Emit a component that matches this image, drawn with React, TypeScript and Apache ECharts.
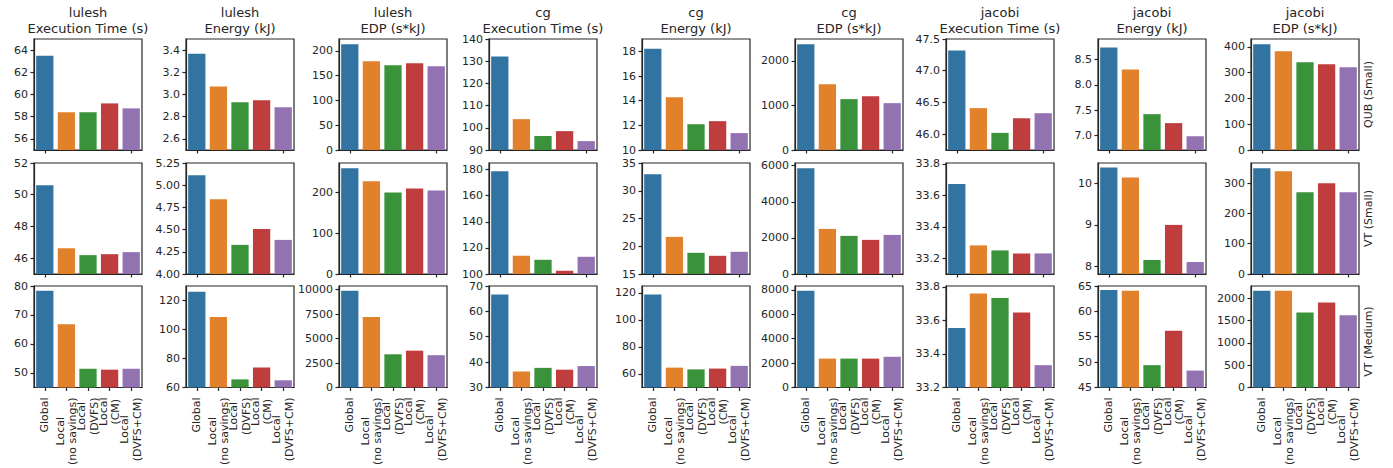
import React, { useEffect, useRef } from "react";
import * as echarts from "echarts";

// ---------- categories / labels ----------
const CATEGORIES = ["Global", "Local\n(no savings)", "Local\n(DVFS)", "Local\n(CM)", "Local\n(DVFS+CM)"];
const BENCHMARKS = ["lulesh", "cg", "jacobi"];
const METRICS = ["Execution Time (s)", "Energy (kJ)", "EDP (s*kJ)"];
const ROW_LABELS = ["QUB (Small)", "VT (Small)", "VT (Medium)"];

// ---------- values: QUB (Small) ----------
const luleshTimeQubSmall = [63.5, 58.4, 58.4, 59.2, 58.75];
const luleshEnergyQubSmall = [3.367, 3.073, 2.93, 2.948, 2.885];
const luleshEdpQubSmall = [213.4, 179.2, 171.1, 175.2, 169.1];
const cgTimeQubSmall = [132.1, 103.9, 96.3, 98.5, 94.0];
const cgEnergyQubSmall = [18.21, 14.27, 12.09, 12.34, 11.37];
const cgEdpQubSmall = [2373, 1478, 1142, 1209, 1052];
const jacobiTimeQubSmall = [47.317, 46.41, 46.02, 46.25, 46.33];
const jacobiEnergyQubSmall = [8.735, 8.3, 7.424, 7.248, 6.99];
const jacobiEdpQubSmall = [410.3, 383.2, 340.6, 332.9, 321.3];

// ---------- values: VT (Small) ----------
const luleshTimeVtSmall = [50.6, 46.63, 46.19, 46.25, 46.38];
const luleshEnergyVtSmall = [5.112, 4.843, 4.328, 4.507, 4.384];
const luleshEdpVtSmall = [259.3, 227.6, 200.0, 209.8, 204.9];
const cgTimeVtSmall = [178.7, 114.0, 110.9, 102.5, 113.2];
const cgEnergyVtSmall = [32.97, 21.69, 18.82, 18.28, 19.0];
const cgEdpVtSmall = [5853, 2495, 2110, 1890, 2165];
const jacobiTimeVtSmall = [33.672, 33.282, 33.25, 33.231, 33.231];
const jacobiEnergyVtSmall = [10.39, 10.15, 8.15, 9.0, 8.1];
const jacobiEdpVtSmall = [349.3, 339.4, 270.4, 300.0, 270.4];

// ---------- values: VT (Medium) ----------
const luleshTimeVtMedium = [78.33, 66.77, 51.46, 51.15, 51.46];
const luleshEnergyVtMedium = [126.25, 108.75, 65.6, 73.75, 65.0];
const luleshEdpVtMedium = [9877, 7191, 3395, 3765, 3302];
const cgTimeVtMedium = [66.67, 36.31, 37.74, 37.02, 38.45];
const cgEnergyVtMedium = [118.9, 64.7, 63.4, 64.0, 66.0];
const cgEdpVtMedium = [7926, 2370, 2370, 2370, 2518];
const jacobiTimeVtMedium = [33.555, 33.76, 33.733, 33.647, 33.333];
const jacobiEnergyVtMedium = [64.23, 64.05, 49.4, 56.19, 48.33];
const jacobiEdpVtMedium = [2162, 2162, 1676, 1899, 1615];

const VALUES = [
  [luleshTimeQubSmall, luleshEnergyQubSmall, luleshEdpQubSmall, cgTimeQubSmall, cgEnergyQubSmall, cgEdpQubSmall, jacobiTimeQubSmall, jacobiEnergyQubSmall, jacobiEdpQubSmall],
  [luleshTimeVtSmall, luleshEnergyVtSmall, luleshEdpVtSmall, cgTimeVtSmall, cgEnergyVtSmall, cgEdpVtSmall, jacobiTimeVtSmall, jacobiEnergyVtSmall, jacobiEdpVtSmall],
  [luleshTimeVtMedium, luleshEnergyVtMedium, luleshEdpVtMedium, cgTimeVtMedium, cgEnergyVtMedium, cgEdpVtMedium, jacobiTimeVtMedium, jacobiEnergyVtMedium, jacobiEdpVtMedium],
];

// ---------- y axis ranges and tick labels ----------
const Y_MIN = [
  [55, 2.5, 0, 90, 10, 0, 45.75, 6.72, 0],
  [45, 4.0, 0, 100, 15, 0, 33.1, 7.81, 0],
  [45, 60, 0, 30, 50, 0, 33.2, 45, 0],
];
const Y_MAX = [
  [65, 3.5, 224.1, 140, 19, 2492, 47.5, 8.9, 430.8],
  [52, 5.25, 272.3, 185.1, 35, 6146, 33.806, 10.5, 366.8],
  [80, 130.2, 10371, 70, 125.1, 8322, 33.805, 65, 2270],
];
const Y_TICKS = [
  [[56, 58, 60, 62, 64], [2.6, 2.8, 3.0, 3.2, 3.4], [0, 50, 100, 150, 200], [90, 100, 110, 120, 130, 140], [10, 12, 14, 16, 18], [0, 1000, 2000], [46.0, 46.5, 47.0, 47.5], [7.0, 7.5, 8.0, 8.5], [0, 100, 200, 300, 400]],
  [[46, 48, 50, 52], [4.0, 4.25, 4.5, 4.75, 5.0, 5.25], [0, 100, 200], [100, 120, 140, 160, 180], [15, 20, 25, 30, 35], [0, 2000, 4000, 6000], [33.2, 33.4, 33.6, 33.8], [8, 9, 10], [0, 100, 200, 300]],
  [[50, 60, 70, 80], [60, 80, 100, 120], [0, 2500, 5000, 7500, 10000], [30, 40, 50, 60, 70], [60, 80, 100, 120], [0, 2000, 4000, 6000, 8000], [33.2, 33.4, 33.6, 33.8], [45, 50, 55, 60, 65], [0, 500, 1000, 1500, 2000]],
];
const Y_DECIMALS = [
  [0, 1, 0, 0, 0, 0, 1, 1, 0],
  [0, 2, 0, 0, 0, 0, 1, 0, 0],
  [0, 0, 0, 0, 0, 0, 1, 0, 0],
];

// ---------- styling / layout ----------
const COLORS = ["#3274a1", "#e1812c", "#3a923a", "#c03d3e", "#9372b2"];
const TEXT = "#262626";
const FONT = "DejaVu Sans";
const COL_LEFT = [34, 186, 339, 489, 642, 795, 946, 1098, 1251];
const ROW_TOP = [39, 163, 286];
const PLOT_W = 108;
const PLOT_H = 111;

export default function App() {
  const ref = useRef<HTMLDivElement>(null);

  useEffect(() => {
    if (!ref.current) return;
    const chart = echarts.init(ref.current, null, { renderer: "svg" });

    const grids: any[] = [];
    const xAxes: any[] = [];
    const yAxes: any[] = [];
    const series: any[] = [];
    const graphics: any[] = [];
    const lineStyle = { color: TEXT, width: 1.2 };

    for (let r = 0; r < 3; r++) {
      for (let c = 0; c < 9; c++) {
        const idx = r * 9 + c;
        grids.push({
          left: COL_LEFT[c],
          top: ROW_TOP[r],
          width: PLOT_W,
          height: PLOT_H,
          show: true,
          borderColor: TEXT,
          borderWidth: 1.2,
          backgroundColor: "transparent",
        });
        xAxes.push({
          type: "category",
          gridIndex: idx,
          data: CATEGORIES,
          axisLine: { show: true, onZero: false, lineStyle },
          axisTick: { show: true, alignWithLabel: true, length: 3.5, lineStyle },
          axisLabel:
            r === 2
              ? {
                  show: true,
                  interval: 0,
                  rotate: 90,
                  margin: 10,
                  color: TEXT,
                  fontFamily: FONT,
                  fontSize: 11,
                  lineHeight: 12.5,
                  formatter: (v: string) =>
                    v
                      .split("\n")
                      .map((l) => `{c|${l}}`)
                      .join("\n"),
                  rich: {
                    c: { align: "center", fontFamily: FONT, fontSize: 11, color: TEXT, lineHeight: 12.5 },
                  },
                }
              : { show: false },
          splitLine: { show: false },
        });
        const dec = Y_DECIMALS[r][c];
        yAxes.push({
          type: "value",
          gridIndex: idx,
          min: Y_MIN[r][c],
          max: Y_MAX[r][c],
          axisLine: { show: true, lineStyle },
          axisTick: { show: true, length: 3.5, customValues: Y_TICKS[r][c], lineStyle },
          axisLabel: {
            show: true,
            customValues: Y_TICKS[r][c],
            formatter: (v: number) => v.toFixed(dec),
            color: TEXT,
            fontFamily: FONT,
            fontSize: 11,
            margin: 6,
          },
          splitLine: { show: false },
        });
        series.push({
          type: "bar",
          xAxisIndex: idx,
          yAxisIndex: idx,
          barCategoryGap: "20%",
          clip: true,
          silent: true,
          data: VALUES[r][c].map((v, i) => ({ value: v, itemStyle: { color: COLORS[i] } })),
        });
      }
    }

    for (let c = 0; c < 9; c++) {
      graphics.push({
        type: "text",
        x: COL_LEFT[c] + PLOT_W / 2,
        y: 5,
        style: {
          text: `${BENCHMARKS[Math.floor(c / 3)]}\n${METRICS[c % 3]}`,
          align: "center",
          verticalAlign: "top",
          fontFamily: FONT,
          fontSize: 13,
          lineHeight: 15.5,
          fill: TEXT,
        },
      });
    }
    for (let r = 0; r < 3; r++) {
      graphics.push({
        type: "text",
        x: 1368,
        y: ROW_TOP[r] + PLOT_H / 2,
        rotation: Math.PI / 2,
        style: {
          text: ROW_LABELS[r],
          align: "center",
          verticalAlign: "middle",
          fontFamily: FONT,
          fontSize: 11,
          fill: TEXT,
        },
      });
    }

    chart.setOption({
      animation: false,
      backgroundColor: "#ffffff",
      grid: grids,
      xAxis: xAxes,
      yAxis: yAxes,
      series,
      graphic: graphics,
    });

    return () => chart.dispose();
  }, []);

  return (
    <div
      ref={ref}
      style={{ position: "absolute", left: 0, top: 0, width: 1393, height: 468 }}
    />
  );
}
